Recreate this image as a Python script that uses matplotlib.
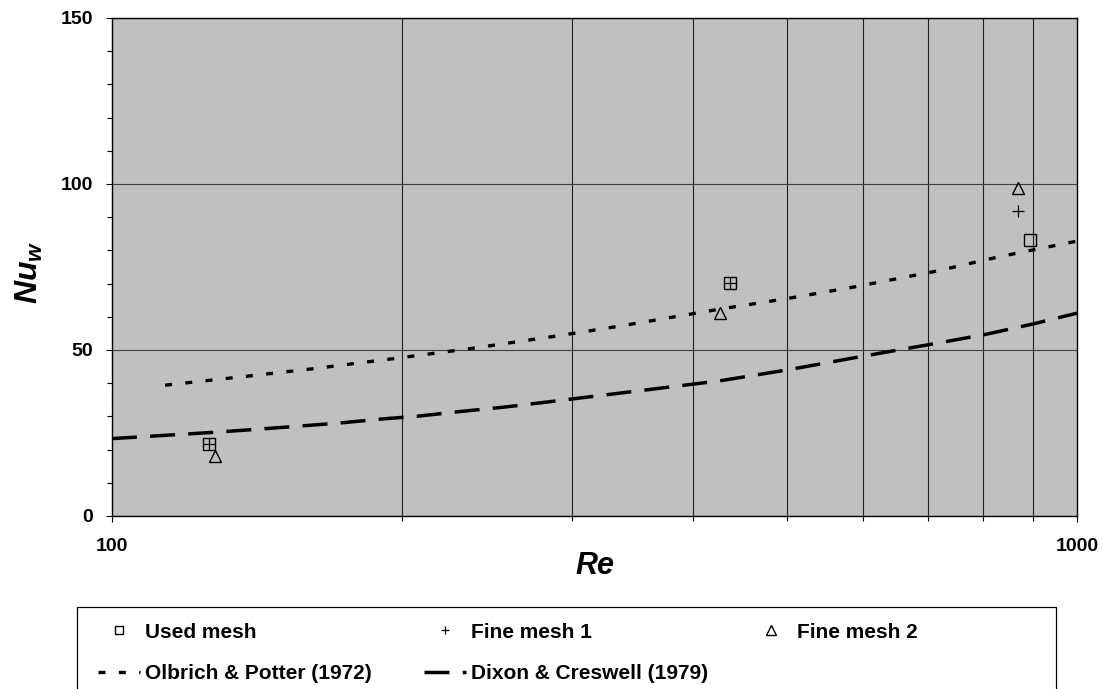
import matplotlib
matplotlib.use("Agg")
import matplotlib.pyplot as plt
from matplotlib.patches import Rectangle
from matplotlib.ticker import FixedLocator, FixedFormatter, MultipleLocator, NullFormatter

plt.rcParams["font.family"] = ["Liberation Sans", "DejaVu Sans"]
plt.rcParams["font.weight"] = "bold"
plt.rcParams["mathtext.fontset"] = "custom"
plt.rcParams["mathtext.it"] = "Liberation Sans:italic:bold"
plt.rcParams["mathtext.rm"] = "Liberation Sans:bold"

# CFD results for three meshes
re_used = [126, 437, 894]
nu_used = [21.7, 70.3, 83.2]
re_fine1 = [126, 437, 869]
nu_fine1 = [21.7, 70.3, 92.0]
re_fine2 = [128, 427, 869]
nu_fine2 = [18.2, 61.0, 98.9]

# literature correlations
re_op = [113.5, 139, 162, 197, 239, 290, 336, 426, 501, 588, 716, 831, 1000]
nu_op = [39.4, 42.2, 44.4, 47.5, 50.7, 54.3, 57.2, 62.3, 65.5, 69.0, 73.8, 78.1, 82.8]
re_dc = [100, 118, 129, 141, 155, 172, 190, 208, 230, 255, 280, 356, 426, 501, 602, 705, 804, 902, 1000]
nu_dc = [23.3, 24.6, 25.3, 26.1, 27.0, 28.0, 29.2, 30.1, 31.5, 32.8, 34.2, 37.9, 40.7, 44.0, 48.2, 51.7, 54.7, 57.9, 61.1]

x_ticks = [100, 1000]
x_ticklabels = ["100", "1000"]
y_ticks = [0, 50, 100, 150]

fig = plt.figure(figsize=(11.06, 6.89), dpi=100)
ax = fig.add_axes([112 / 1106, 1 - 516 / 689, 965 / 1106, 498 / 689])
ax.set_facecolor("#c0c0c0")

op_line, = ax.plot(re_op, nu_op, color="black", lw=2.4, ls=(0, (2.1, 4.0)),
                   label="Olbrich & Potter (1972)", zorder=3)
dc_line, = ax.plot(re_dc, nu_dc, color="black", lw=2.5, ls=(0, (7.2, 3.8)),
                   label="Dixon & Creswell (1979)", zorder=3)
used, = ax.plot(re_used, nu_used, ls="none", marker="s", ms=8.6, mfc="none",
                mec="black", mew=1.0, label="Used mesh", zorder=4)
fine1, = ax.plot(re_fine1, nu_fine1, ls="none", marker="+", ms=8.6,
                 mec="black", mew=0.9, label="Fine mesh 1", zorder=4)
fine2, = ax.plot(re_fine2, nu_fine2, ls="none", marker="^", ms=8.8, mfc="none",
                 mec="black", mew=1.0, label="Fine mesh 2", zorder=4)

ax.set_xscale("log")
ax.set_xlim(100, 1000)
ax.set_ylim(0, 150)
ax.xaxis.set_major_locator(FixedLocator(x_ticks))
ax.xaxis.set_major_formatter(FixedFormatter(x_ticklabels))
ax.xaxis.set_minor_locator(FixedLocator(range(200, 1000, 100)))
ax.xaxis.set_minor_formatter(NullFormatter())
ax.yaxis.set_major_locator(FixedLocator(y_ticks))
ax.yaxis.set_minor_locator(MultipleLocator(10))

ax.grid(which="minor", axis="x", color="#202020", lw=0.8)
ax.grid(which="major", axis="y", color="#404040", lw=0.8)
ax.set_axisbelow(True)

ax.tick_params(which="major", direction="out", length=4.5, width=0.8, labelsize=14)
ax.tick_params(which="minor", direction="out", length=3.5, width=0.8)
ax.tick_params(axis="x", which="major", pad=11)
ax.tick_params(axis="y", which="major", pad=9)
for s in ax.spines.values():
    s.set_linewidth(1.0)

ax.set_xlabel("Re", fontsize=22, fontstyle="italic", fontweight="bold")
ax.set_ylabel(r"$Nu_w$", fontsize=23)
ax.xaxis.set_label_coords(0.5, -0.07)
ax.yaxis.set_label_coords(-0.069, 0.49)

# legend frame below the plot, running off the bottom edge
box = Rectangle((77 / 1106, -0.1), 979 / 1106, 1 - 607 / 689 + 0.1,
                transform=fig.transFigure, fill=False, edgecolor="black",
                lw=0.9, clip_on=False)
fig.add_artist(box)

leg_kw = dict(loc="upper left", bbox_transform=fig.transFigure, frameon=False,
              fontsize=15, handlelength=2.0, handletextpad=0.24,
              labelspacing=1.09, borderpad=0, borderaxespad=0, markerscale=0.75)
leg_top = 1 - 622.5 / 689
leg1 = ax.legend([used, op_line], ["Used mesh", "Olbrich & Potter (1972)"],
                 bbox_to_anchor=(98 / 1106, leg_top), **leg_kw)
ax.add_artist(leg1)
leg2 = ax.legend([fine1, dc_line], ["Fine mesh 1", "Dixon & Creswell (1979)"],
                 bbox_to_anchor=(424 / 1106, leg_top), **leg_kw)
ax.add_artist(leg2)
ax.legend([fine2], ["Fine mesh 2"], bbox_to_anchor=(750 / 1106, leg_top), **leg_kw)

fig.savefig("out.png", dpi=100)
